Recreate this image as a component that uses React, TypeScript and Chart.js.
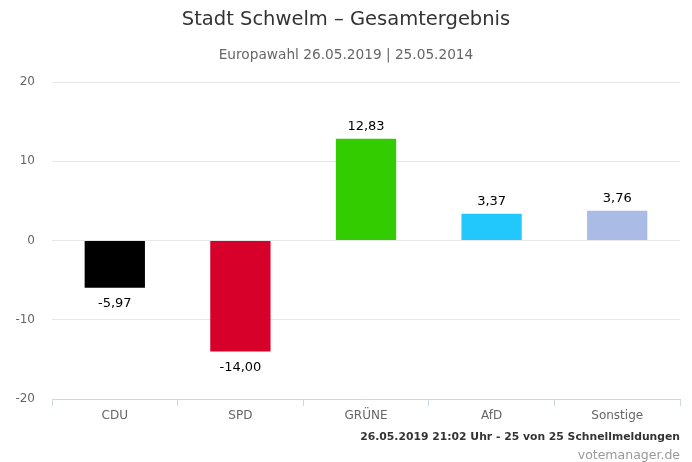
import React, { useEffect, useRef } from "react";
import { Chart, registerables } from "chart.js";

Chart.register(...registerables);

const categories = ["CDU", "SPD", "GRÜNE", "AfD", "Sonstige"];
const values = [-5.97, -14.0, 12.83, 3.37, 3.76];
const barColors = ["#000000", "#d7002a", "#33cc00", "#22c8fc", "#aabce6"];
const titleText = "Stadt Schwelm – Gesamtergebnis";
const subtitleText = "Europawahl 26.05.2019 | 25.05.2014";
const creditText = "26.05.2019 21:02 Uhr - 25 von 25 Schnellmeldungen";
const sourceText = "votemanager.de";

const FONT = "'DejaVu Sans', sans-serif";

const fmt = (v: number) => v.toFixed(2).replace(".", ",");

const textPlugin = {
  id: "texts",
  afterDatasetsDraw(chart: any) {
    const ctx = chart.ctx;
    const meta = chart.getDatasetMeta(0);
    ctx.save();
    ctx.font = `13px ${FONT}`;
    ctx.textAlign = "center";
    ctx.textBaseline = "middle";
    meta.data.forEach((el: any, i: number) => {
      const v = values[i];
      const y = v >= 0 ? el.y - 12 : el.y + 16;
      const t = fmt(v);
      ctx.lineWidth = 2;
      ctx.strokeStyle = "rgba(255,255,255,0.8)";
      ctx.lineJoin = "round";
      ctx.strokeText(t, el.x, y);
      ctx.fillStyle = "#000000";
      ctx.fillText(t, el.x, y);
    });
    ctx.restore();
  },
  afterDraw(chart: any) {
    const ctx = chart.ctx;
    const w = chart.width;
    ctx.save();
    ctx.textAlign = "center";
    ctx.textBaseline = "middle";
    ctx.fillStyle = "#333333";
    ctx.font = `19.5px ${FONT}`;
    ctx.fillText(titleText, w / 2, 20);
    ctx.fillStyle = "#666666";
    ctx.font = `13.7px ${FONT}`;
    ctx.fillText(subtitleText, w / 2, 55);
    ctx.textAlign = "right";
    ctx.fillStyle = "#333333";
    ctx.font = `bold 10.8px ${FONT}`;
    ctx.fillText(creditText, 680, 437);
    ctx.fillStyle = "#999999";
    ctx.font = `12.5px ${FONT}`;
    ctx.fillText(sourceText, 680, 456);
    ctx.restore();
  },
};

export default function App() {
  const ref = useRef<HTMLCanvasElement | null>(null);
  useEffect(() => {
    if (!ref.current) return;
    const chart = new Chart(ref.current, {
      type: "bar",
      data: {
        labels: categories,
        datasets: [
          {
            data: values,
            backgroundColor: barColors,
            borderWidth: 0,
            barPercentage: 0.48,
            categoryPercentage: 1,
          },
        ],
      },
      options: {
        responsive: false,
        animation: false,
        layout: { padding: { top: 82, left: 0, right: 12, bottom: 0 } },
        plugins: {
          legend: { display: false },
          tooltip: { enabled: false },
          title: { display: false },
        },
        scales: {
          x: {
            offset: true,
            grid: {
              offset: true,
              drawOnChartArea: false,
              drawTicks: true,
              tickLength: 7,
              color: "#ccd6eb",
            },
            border: { display: true, color: "#ccd6eb" },
            ticks: {
              color: "#666666",
              font: { family: FONT, size: 12 },
              padding: 3,
              maxRotation: 0,
            },
            afterFit(scale: any) {
              scale.height = 63;
            },
          },
          y: {
            min: -20,
            max: 20,
            grid: { color: "#e6e6e6", drawTicks: false },
            border: { display: false },
            ticks: {
              stepSize: 10,
              color: "#666666",
              font: { family: FONT, size: 12 },
              padding: 17,
              callback: (v: any) => String(v),
            },
            afterFit(scale: any) {
              scale.width = 52;
            },
          },
        },
      },
      plugins: [textPlugin],
    });
    return () => chart.destroy();
  }, []);
  return (
    <div style={{ position: "absolute", left: 0, top: 0, width: 692, height: 462, background: "#fff" }}>
      <canvas ref={ref} width={692} height={462} style={{ display: "block" }} />
    </div>
  );
}
